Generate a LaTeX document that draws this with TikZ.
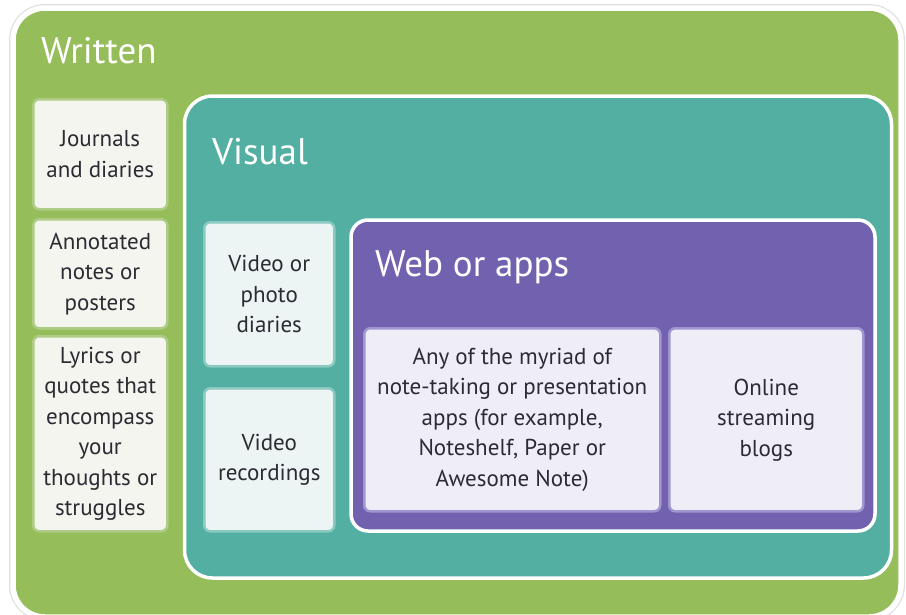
\documentclass[tikz,border=0pt]{standalone}
\usepackage{fontspec}
\setmainfont{PT Sans}
\usetikzlibrary{positioning}
\definecolor{grassgreen}{HTML}{95BD59}
\definecolor{seateal}{HTML}{52AFA1}
\definecolor{violet}{HTML}{7261AF}
\definecolor{inkdark}{HTML}{2B2B33}
\definecolor{greenfill}{HTML}{F4F5EF}
\definecolor{greenedge}{HTML}{AECC86}
\definecolor{tealfill}{HTML}{EDF4F4}
\definecolor{tealedge}{HTML}{8ACAC0}
\definecolor{violetfill}{HTML}{EFEEF7}
\definecolor{violetedge}{HTML}{A096D0}
\newcommand{\bodyfont}{\fontsize{23}{30.5}\selectfont}
\newcommand{\titlefont}{\fontsize{37}{40}\selectfont}
\newcommand{\itemcard}[7]{%
  \node[itembox,draw=#6edge,fill=#6fill,minimum width=#4pt,minimum height=#5pt]
        (#1) at (#2,#3) {#7};
}
\tikzset{
  panel/.style={draw=white,line width=3.5pt,rounded corners=28pt},
  itembox/.style={rounded corners=6pt,line width=2.5pt,align=center,inner sep=0pt,
                  anchor=north west,text=inkdark,font=\bodyfont},
  paneltitle/.style={anchor=base west,text=white,font=\titlefont,inner sep=0pt}
}

\begin{document}
\begin{tikzpicture}[x=1pt,y=-1pt]
  \useasboundingbox (0,0) rectangle (906,614);
  \fill[white] (0,0) rectangle (906,614);
  % outer panel
  \draw[black!12,line width=8pt,rounded corners=32pt] (13,8) rectangle (901,617);
  \draw[grassgreen,fill=grassgreen,line width=0pt,rounded corners=32pt] (13,8) rectangle (901,617);
  \draw[white,line width=5.5pt,rounded corners=32pt] (13,8) rectangle (901,617);
  \node[paneltitle] (written) at (41,63) {Written};
  \itemcard{journals}{32}{98}{134}{110}{green}{Journals\\and diaries}
  \itemcard{annotated}{32}{218}{134}{109}{green}{Annotated\\notes or\\posters}
  \itemcard{lyrics}{32}{335}{134}{195}{green}{Lyrics or\\quotes that\\encompass\\your\\thoughts or\\struggles}
  % visual panel
  \draw[panel,fill=seateal] (184.5,96) rectangle (891.5,578);
  \node[paneltitle] (visual) at (212,164) {Visual};
  \itemcard{photo}{203}{221}{130}{144}{teal}{Video or\\photo\\diaries}
  \itemcard{recordings}{203}{387}{130}{143}{teal}{Video\\recordings}
  % web panel
  \draw[panel,rounded corners=17pt,fill=violet] (351,220) rectangle (875,531);
  \node[paneltitle] (web) at (375,276) {Web or apps};
  \itemcard{myriad}{363}{327}{296}{183}{violet}{Any of the myriad of\\note-taking or presentation\\apps (for example,\\Noteshelf, Paper or\\Awesome Note)}
  \itemcard{streaming}{668}{327}{194}{183}{violet}{Online\\streaming\\blogs}
\end{tikzpicture}
\end{document}
